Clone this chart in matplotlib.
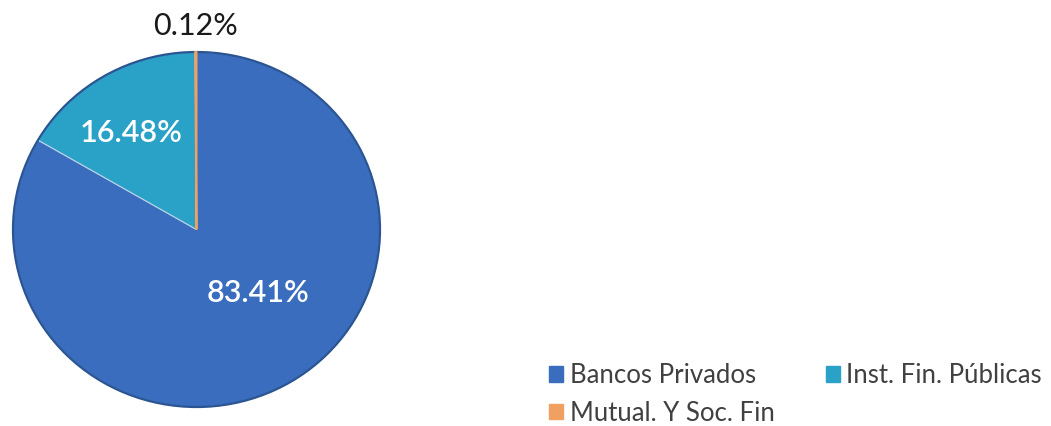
import matplotlib
matplotlib.use("Agg")
import matplotlib.pyplot as plt
from matplotlib.patches import Patch, Ellipse

categories = ["Bancos Privados", "Inst. Fin. Públicas", "Mutual. Y Soc. Fin"]
shares = [83.41, 16.48, 0.12]
colors = ["#3a6dbe", "#2aa2c7", "#f0a060"]
label_colors = ["white", "white", "#1a1a1a"]
# where each percentage sits, in pie units (x, y)
label_pos = [(0.335, -0.358), (-0.357, 0.544), (-0.008, 1.146)]

plt.rcParams['font.family'] = ['Lato', 'DejaVu Sans']

W, H = 1051, 426
fig = plt.figure(figsize=(W / 100, H / 100), dpi=100)

# pie box in pixels: centre (196.5, 229.5), rx 183.5, ry 177.5
cx, cy, rx, ry = 196.5, 229.5, 183.5, 177.5
ax = fig.add_axes([(cx - rx) / W, (H - cy - ry) / H, 2 * rx / W, 2 * ry / H])

wedges, _ = ax.pie(shares, colors=colors, startangle=90, counterclock=False,
                   wedgeprops=dict(edgecolor="#b9d3ea", linewidth=0.8))
# the tiny slice would vanish under the light edge, so edge it with its own colour
wedges[2].set_edgecolor(colors[2])
wedges[2].set_linewidth(1.4)
wedges[2].set_zorder(3)
ax.set_aspect('auto')
ax.set_xlim(-1, 1)
ax.set_ylim(-1, 1)
ax.axis('off')
ax.add_patch(Ellipse((0, 0), 2, 2, fill=False, edgecolor="#2b5592", linewidth=1.6, clip_on=False))

for v, (x, y), c in zip(shares, label_pos, label_colors):
    ax.text(x, y, f"{v:.2f}%", ha='center', va='center', fontsize=22, color=c,
            fontweight='semibold' if c == "white" else 'normal', clip_on=False)

# legend fills by column, so order it to read row-wise like the original
order = [0, 2, 1]
handles = [Patch(facecolor=colors[i], edgecolor=colors[i]) for i in order]
labels = [categories[i] for i in order]
fig.legend(handles, labels, loc='upper left', bbox_to_anchor=(549 / W, 1 - 363 / H),
           ncol=2, frameon=False, fontsize=18.5, labelcolor="#404040",
           handlelength=0.55, handleheight=0.55, handletextpad=0.25,
           columnspacing=2.0, labelspacing=0.5, borderaxespad=0, borderpad=0)

fig.savefig("out.png", dpi=100)
